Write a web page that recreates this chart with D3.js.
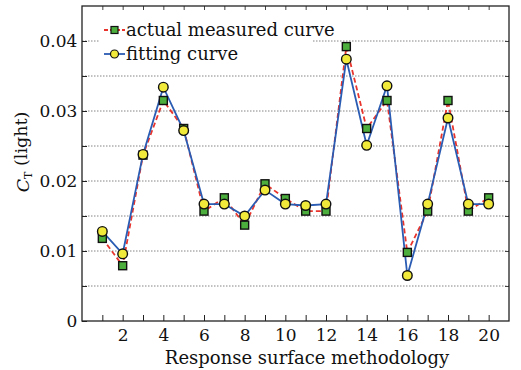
<!DOCTYPE html>
<html>
<head>
<meta charset="utf-8">
<script src="https://cdn.jsdelivr.net/npm/d3@7/dist/d3.min.js"></script>
<style>
  html, body { margin: 0; padding: 0; background: #fff; }
  svg { display: block; }
</style>
</head>
<body>
<div id="chart"></div>
<script>
// Run index 1..20 of the response surface design
const runs = d3.range(1, 21);
// Measured C_T (light)
const measured = [0.0118, 0.0079, 0.0237, 0.0315, 0.0275, 0.0157, 0.0176, 0.0137, 0.0196, 0.0175,
                  0.0157, 0.0157, 0.0392, 0.0275, 0.0315, 0.0098, 0.0157, 0.0315, 0.0157, 0.0176];
// Fitted C_T (light)
const fitted = [0.0128, 0.0096, 0.0238, 0.0334, 0.0272, 0.0167, 0.0167, 0.0150, 0.0187, 0.0167,
                0.0165, 0.0167, 0.0374, 0.0251, 0.0336, 0.0065, 0.0167, 0.0290, 0.0167, 0.0167];
const xTickLabels = [2, 4, 6, 8, 10, 12, 14, 16, 18, 20];
const yTickLabels = [0, 0.01, 0.02, 0.03, 0.04];
const seriesNames = ["actual measured curve", "fitting curve"];

const FONT = "'DejaVu Serif', 'Liberation Serif', serif";

const W = 521, H = 370;
const m = { left: 82, right: 12, top: 6, bottom: 49 };

const svg = d3.select("#chart").append("svg").attr("width", W).attr("height", H)
  .style("font-family", FONT);

const x = d3.scaleLinear().domain([0, 21]).range([m.left, W - m.right]);
const y = d3.scaleLinear().domain([0, 0.045]).range([H - m.bottom, m.top]);

// dotted grid every 0.005
const gridVals = d3.range(1, 9).map(i => i * 0.005);
svg.append("g").selectAll("line").data(gridVals).join("line")
  .attr("x1", x(0)).attr("x2", x(21))
  .attr("y1", d => y(d)).attr("y2", d => y(d))
  .attr("stroke", "#666").attr("stroke-width", 0.8).attr("stroke-dasharray", "1.5,1.5");

// inward ticks: bottom (every integer), top, left, right
const xb = d3.axisBottom(x).tickValues(d3.range(1, 21)).tickSizeInner(-6).tickSizeOuter(0)
  .tickFormat(d => xTickLabels.includes(d) ? d : "");
const gx = svg.append("g").attr("transform", `translate(0,${y(0)})`).call(xb);
gx.attr("font-family", null);
gx.select(".domain").remove();
gx.selectAll(".tick line").attr("stroke", "#222");
gx.selectAll(".tick text").attr("dy", "0.98em").attr("fill", "#111")
  .style("font-family", FONT).style("font-size", "17px");

const gxt = svg.append("g").attr("transform", `translate(0,${y(0.045)})`)
  .call(d3.axisTop(x).tickValues(d3.range(1, 21)).tickSizeInner(-4).tickSizeOuter(0).tickFormat(""));
gxt.select(".domain").remove();
gxt.selectAll(".tick line").attr("stroke", "#444");

const yl = d3.axisLeft(y).tickValues(gridVals.concat([0])).tickSizeInner(-5).tickSizeOuter(0)
  .tickFormat(d => {
    const v = yTickLabels.find(t => Math.abs(t - d) < 1e-9);
    return v === undefined ? "" : (v === 0 ? "0" : d3.format(".2f")(v));
  });
const gy = svg.append("g").attr("transform", `translate(${x(0)},0)`).call(yl);
gy.attr("font-family", null);
gy.select(".domain").remove();
gy.selectAll(".tick line").attr("stroke", "#222");
gy.selectAll(".tick text").attr("dx", "-0.1em").attr("fill", "#111")
  .style("font-family", FONT).style("font-size", "17px");

const gyr = svg.append("g").attr("transform", `translate(${x(21)},0)`)
  .call(d3.axisRight(y).tickValues(gridVals).tickSizeInner(-4).tickSizeOuter(0).tickFormat(""));
gyr.select(".domain").remove();
gyr.selectAll(".tick line").attr("stroke", "#444");

// legend background
const lg = svg.append("g");
lg.append("rect").attr("x", 100).attr("y", 18).attr("width", 212).attr("height", 50).attr("fill", "#fff");

// frame
svg.append("rect").attr("x", x(0)).attr("y", y(0.045))
  .attr("width", x(21) - x(0)).attr("height", y(0) - y(0.045))
  .attr("fill", "none").attr("stroke", "#222").attr("stroke-width", 1.3);

const red = "#e8342c", blue = "#2b5cb3", green = "#4cae3c", yellow = "#f2ea3a";

const lineGen = d3.line().x((d, i) => x(runs[i])).y(d => y(d));

svg.append("path").datum(measured).attr("d", lineGen)
  .attr("fill", "none").attr("stroke", red).attr("stroke-width", 1.8).attr("stroke-dasharray", "5,3");
svg.append("path").datum(fitted).attr("d", lineGen)
  .attr("fill", "none").attr("stroke", blue).attr("stroke-width", 1.8);

const sq = 8;
svg.append("g").selectAll("rect").data(measured).join("rect")
  .attr("x", (d, i) => x(runs[i]) - sq / 2).attr("y", d => y(d) - sq / 2)
  .attr("width", sq).attr("height", sq)
  .attr("fill", green).attr("stroke", "#111").attr("stroke-width", 1.4);

svg.append("g").selectAll("circle").data(fitted).join("circle")
  .attr("cx", (d, i) => x(runs[i])).attr("cy", d => y(d)).attr("r", 4.8)
  .attr("fill", yellow).attr("stroke", "#111").attr("stroke-width", 1.4);

// legend entries
const rows = [
  { name: seriesNames[0], y: 30, color: red, dash: "4,2", mark: "square" },
  { name: seriesNames[1], y: 54, color: blue, dash: null, mark: "circle" }
];
rows.forEach(r => {
  lg.append("line").attr("x1", 104).attr("x2", 125).attr("y1", r.y).attr("y2", r.y)
    .attr("stroke", r.color).attr("stroke-width", 1.8).attr("stroke-dasharray", r.dash);
  if (r.mark === "square") {
    lg.append("rect").attr("x", 114.5 - 3.5).attr("y", r.y - 3.5).attr("width", 7).attr("height", 7)
      .attr("fill", green).attr("stroke", "#111").attr("stroke-width", 1.2);
  } else {
    lg.append("circle").attr("cx", 114.5).attr("cy", r.y).attr("r", 4)
      .attr("fill", yellow).attr("stroke", "#111").attr("stroke-width", 1.2);
  }
  lg.append("text").attr("x", 126).attr("y", r.y + 6).attr("fill", "#111")
    .style("font-size", "18px").text(r.name);
});

// axis titles
svg.append("text").attr("x", 307).attr("y", 364).attr("fill", "#111")
  .attr("text-anchor", "middle").style("font-size", "18px").text("Response surface methodology");

const yt = svg.append("text").attr("transform", "translate(29,152) rotate(-90)")
  .attr("text-anchor", "middle").attr("fill", "#111").style("font-size", "17.5px");
yt.append("tspan").style("font-style", "italic").text("C");
yt.append("tspan").attr("dy", "0.3em").style("font-size", "11px").text("T");
yt.append("tspan").attr("dy", "-0.3em").text(" (light)");
</script>
</body>
</html>
